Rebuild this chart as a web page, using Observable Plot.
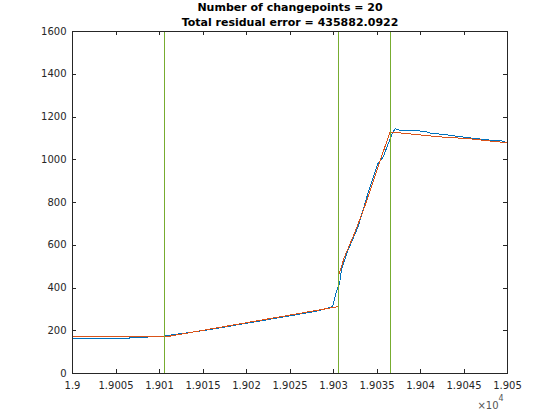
<!DOCTYPE html>
<html>
<head>
<meta charset="utf-8">
<script src="https://cdn.jsdelivr.net/npm/d3@7"></script>
<script src="https://cdn.jsdelivr.net/npm/@observablehq/plot@0.6"></script>
<style>
  html, body { margin: 0; padding: 0; background: #fff; }
  #chart svg { display: block; }
</style>
</head>
<body>
<div id="chart"></div>
<script>
// ---- data ----
const titleLines = ["Number of changepoints = 20", "Total residual error = 435882.0922"];

const signalX = [19000, 19006.5, 19006.6, 19008.6, 19008.7, 19010.6,
  19010.7, 19013, 19016, 19019, 19022, 19025, 19028, 19029.9,
  19030.3, 19030.7, 19030.9, 19031.65, 19032.8, 19033.95, 19035.1, 19035.7, 19036.44, 19036.83,
  19037.1, 19037.8, 19040.5, 19041.2, 19043, 19044.5, 19046, 19048, 19049.3, 19050];
const signalY = [162, 162, 168, 168, 173, 173,
  177, 189, 207, 228, 249, 270, 291, 313,
  380, 420, 482, 575, 684, 841, 981, 1012, 1090, 1129,
  1145, 1136, 1134, 1124, 1117, 1108, 1101, 1092, 1088, 1080];

const fitX = [19000, 19010.6, 19010.65, 19030.55, 19030.6, 19031.25, 19032.4, 19033.56, 19035.1, 19036.5,
  19038.1, 19041.9, 19045.7, 19050];
const fitY = [173, 173, 171, 313, 460, 544, 654, 778, 965, 1130,
  1124, 1108, 1098, 1079];

const changepoints = [19010.6, 19030.56, 19036.56];

const xTicks = [19000, 19005, 19010, 19015, 19020, 19025, 19030, 19035, 19040, 19045, 19050];
const xTickLabels = ["1.9", "1.9005", "1.901", "1.9015", "1.902", "1.9025", "1.903", "1.9035", "1.904", "1.9045", "1.905"];
const yTicks = [0, 200, 400, 600, 800, 1000, 1200, 1400, 1600];
const exponentBase = "×10";
const exponentPower = "4";

// ---- layout ----
const W = 560, H = 420;
const mL = 72, mR = 53, mT = 31, mB = 47;
const fw = W - mL - mR, fh = H - mT - mB;
const tickLen = 4;
const axisColor = "#262626";

const signal = signalX.map((x, i) => ({x, y: signalY[i]}));
const fit = fitX.map((x, i) => ({x, y: fitY[i]}));
const xLabel = new Map(xTicks.map((t, i) => [t, xTickLabels[i]]));

const chart = Plot.plot({
  width: W, height: H,
  marginLeft: mL, marginRight: mR, marginTop: mT, marginBottom: mB,
  style: {fontFamily: "DejaVu Sans, sans-serif", fontSize: "10px", color: axisColor, background: "#fff"},
  x: {domain: [19000, 19050]},
  y: {domain: [0, 1600]},
  marks: [
    Plot.axisX(xTicks, {tickSize: 0, tickPadding: 8, tickFormat: d => xLabel.get(d), fill: axisColor, fontSize: 10, label: null}),
    Plot.axisY(yTicks, {tickSize: 0, tickPadding: 6, tickFormat: d => String(d), fill: axisColor, fontSize: 10, label: null}),
    Plot.line(signal, {x: "x", y: "y", stroke: "#0072BD", strokeWidth: 1, shapeRendering: "crispEdges"}),
    Plot.line(fit, {x: "x", y: "y", stroke: "#D95319", strokeWidth: 1, shapeRendering: "crispEdges"}),
    Plot.ruleX(changepoints, {x: d => d, stroke: "#77AC30", strokeWidth: 1, shapeRendering: "crispEdges"}),
    // inward ticks on all four sides
    Plot.tickX(xTicks, {x: d => d, insetTop: fh - tickLen, stroke: axisColor, shapeRendering: "crispEdges"}),
    Plot.tickX(xTicks, {x: d => d, insetBottom: fh - tickLen, stroke: axisColor, shapeRendering: "crispEdges"}),
    Plot.tickY(yTicks, {y: d => d, insetRight: fw - tickLen, stroke: axisColor, shapeRendering: "crispEdges"}),
    Plot.tickY(yTicks, {y: d => d, insetLeft: fw - tickLen, stroke: axisColor, shapeRendering: "crispEdges"}),
    Plot.frame({stroke: axisColor, strokeWidth: 1, shapeRendering: "crispEdges"}),
    // title
    Plot.text([titleLines.join("\n")], {frameAnchor: "top", text: d => d, lineAnchor: "bottom", dy: -6, fontWeight: "bold", fontSize: 11, fill: "#000", lineHeight: 1.36}),
    // exponent
    Plot.text([exponentBase], {frameAnchor: "bottom-right", text: d => d, textAnchor: "end", lineAnchor: "bottom", dx: -9, dy: 35, fontSize: 10, fill: "#555"}),
    Plot.text([exponentPower], {frameAnchor: "bottom-right", text: d => d, textAnchor: "start", lineAnchor: "bottom", dx: -9, dy: 27, fontSize: 8, fill: "#555"})
  ]
});
document.getElementById("chart").appendChild(chart);
</script>
</body>
</html>
